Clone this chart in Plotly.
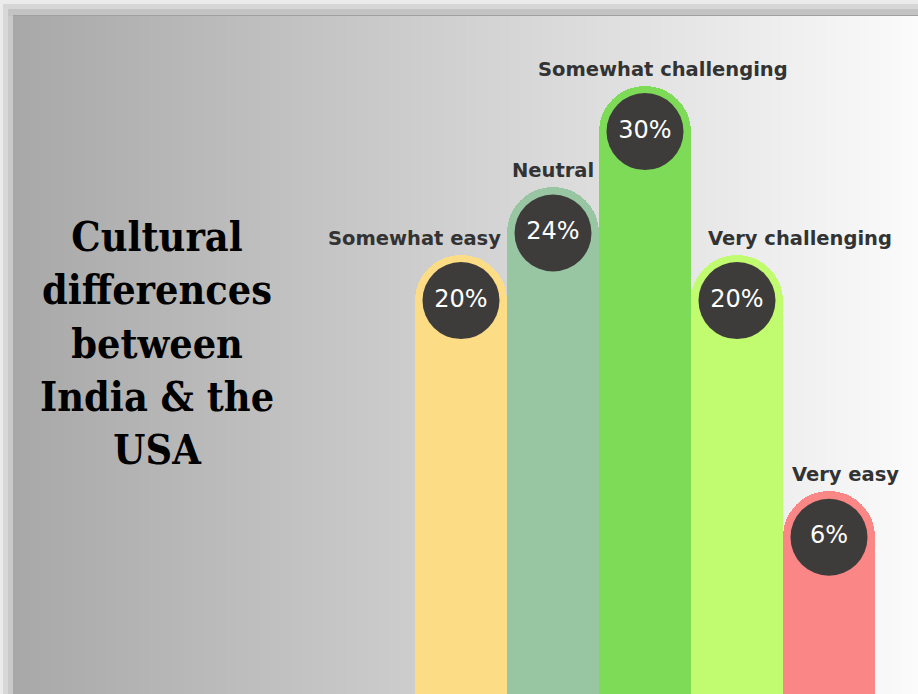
import plotly.graph_objects as go

# ---- data -------------------------------------------------------------
categories = ["Somewhat easy", "Neutral", "Somewhat challenging",
              "Very challenging", "Very easy"]
shares = [20, 24, 30, 20, 6]          # percent of respondents
bar_colors = ["#fddc86", "#98c6a2", "#7edb58", "#c1fb6f", "#fb8686"]
title_lines = ["Cultural", "differences", "between", "India & the", "USA"]

# ---- layout constants ---------------------------------------------------
W, H = 918, 694
BAR_PX = 92                    # bar width in pixels (bars touch each other)
FIRST_CENTER_PX = 461          # pixel x of the first bar centre
Y_FLOOR = -6                   # value axis starts below zero so bars run off the bottom
BAR_BASE = -20                 # bars are anchored well below the visible floor
PX_PER_UNIT = 16.9             # vertical pixels per percentage point
Y_CEIL = Y_FLOOR + H / PX_PER_UNIT
CIRCLE_PX = 77
LABEL_NUDGE_PX = [-47, 0, 18, 63, 16]   # horizontal nudges of the category labels

x_pos = list(range(len(categories)))
x_lo = -FIRST_CENTER_PX / BAR_PX
x_hi = (W - FIRST_CENTER_PX) / BAR_PX

# badge centres sit half a bar width below the bar tops (concentric with the rounded cap)
badge_y = [v - (BAR_PX / 2) / PX_PER_UNIT for v in shares]

fig = go.Figure()

# gradient panel behind the bars
fig.add_trace(go.Heatmap(
    z=[[0, 1], [0, 1]], x=[0, 1], y=[0, 1],
    colorscale=[[0, "#a8a8a8"], [1, "#fbfbfb"]],
    zsmooth="best", showscale=False, hoverinfo="skip",
    xaxis="x", yaxis="y",
))

# rounded-top bars
fig.add_trace(go.Bar(
    x=x_pos, y=[v - BAR_BASE for v in shares], base=BAR_BASE,
    width=1.0,
    marker=dict(color=bar_colors, line=dict(width=0), cornerradius="50%"),
    hoverinfo="skip", xaxis="x2", yaxis="y2",
))

# dark value badges
fig.add_trace(go.Scatter(
    x=x_pos, y=badge_y, mode="markers+text",
    marker=dict(size=CIRCLE_PX, color="#3e3b3b", line=dict(width=0)),
    text=[f"{v}%" for v in shares], textposition="middle center",
    textfont=dict(family="DejaVu Sans", size=24, color="#ffffff"),
    hoverinfo="skip", xaxis="x2", yaxis="y2",
))

annotations = []
for i, (cat, v) in enumerate(zip(categories, shares)):
    annotations.append(dict(
        x=i, y=v, xref="x2", yref="y2", text=cat, showarrow=False,
        xanchor="center", yanchor="bottom", yshift=3, xshift=LABEL_NUDGE_PX[i],
        font=dict(family="DejaVu Sans", size=19.5, color="#333333", weight="bold"),
    ))

annotations.append(dict(
    x=157 / W, y=1 - 343.5 / H, xref="paper", yref="paper",
    text="<br>".join(title_lines), showarrow=False,
    xanchor="center", yanchor="middle", align="center",
    font=dict(family="DejaVu Serif Condensed, DejaVu Serif", size=41,
              color="#000000", weight="bold"),
))

panel_left = 13 / W
panel_top = 1 - 16 / H

shapes = [
    # soft frame bands along the top and left edges
    dict(type="rect", xref="paper", yref="paper", x0=3 / W, x1=1,
         y0=1 - 9 / H, y1=1 - 4 / H, fillcolor="#d6d6d6", line_width=0, layer="below"),
    dict(type="rect", xref="paper", yref="paper", x0=8 / W, x1=1,
         y0=panel_top, y1=1 - 9 / H, fillcolor="#c3c3c3", line_width=0, layer="below"),
    dict(type="rect", xref="paper", yref="paper", x0=3 / W, x1=8 / W,
         y0=0, y1=1 - 9 / H, fillcolor="#d8d8d8", line_width=0, layer="below"),
    dict(type="rect", xref="paper", yref="paper", x0=8 / W, x1=panel_left,
         y0=0, y1=panel_top, fillcolor="#c9c9c9", line_width=0, layer="below"),
    dict(type="line", xref="paper", yref="paper", x0=panel_left, x1=1,
         y0=panel_top + 0.5 / H, y1=panel_top + 0.5 / H,
         line=dict(color="#9f9f9f", width=1)),
]

fig.update_layout(
    width=W, height=H,
    margin=dict(l=0, r=0, t=0, b=0),
    paper_bgcolor="#ebebeb",
    plot_bgcolor="rgba(0,0,0,0)",
    showlegend=False,
    bargap=0,
    xaxis=dict(domain=[panel_left, 1], range=[0, 1], visible=False, fixedrange=True),
    yaxis=dict(domain=[0, panel_top], range=[0, 1], visible=False, fixedrange=True),
    xaxis2=dict(domain=[0, 1], range=[x_lo, x_hi], visible=False,
                anchor="y2", fixedrange=True),
    yaxis2=dict(domain=[0, 1], range=[Y_FLOOR, Y_CEIL], visible=False,
                anchor="x2", fixedrange=True),
    annotations=annotations,
    shapes=shapes,
)

fig.write_html("out.html")
